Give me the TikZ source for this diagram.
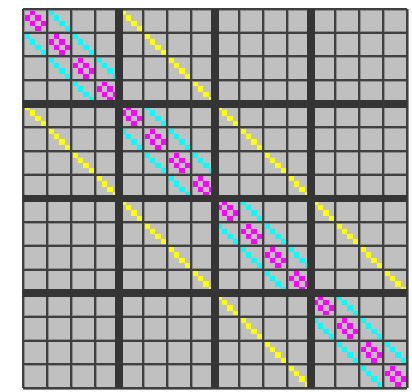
\documentclass[tikz,border=0pt]{standalone}
\definecolor{cellgray}{HTML}{C0C0C0}
\definecolor{linedark}{HTML}{404040}
\definecolor{linemid}{HTML}{8C8C8C}
\definecolor{thickline}{HTML}{353535}
\definecolor{mag}{HTML}{FF00FF}
\definecolor{cya}{HTML}{00FFFF}
\definecolor{yel}{HTML}{FFFF00}
\def\xo{23}\def\yo{9}\def\cw{24}\def\ch{23.6875}\def\sw{5.5}\def\sh{5.4219}
\newcommand{\matentry}[5]{%
  \fill[#1] ({\xo+#3*\cw+1+#5*\sw},{\yo+#2*\ch+1+#4*\sh}) rectangle ++(\sw,\sh);}
\tikzset{
  fringe/.style={draw=linemid, line width=3pt},
  thinline/.style={draw=linedark, line width=2pt},
  blockline/.style={draw=thickline, line width=7.7pt}
}
\begin{document}
\begin{tikzpicture}[x=1pt,y=-1pt]
\useasboundingbox (0,0) rectangle (412,391);
\fill[cellgray] (\xo,\yo) rectangle ({\xo+16*\cw},{\yo+16*\ch});
% magenta: diagonal cells, off-diagonal entries
\foreach \i in {0,...,15}{\foreach \r/\c in {0/1,1/0,1/2,2/1,2/3,3/2}{\matentry{mag}{\i}{\i}{\r}{\c}}}
% cyan: neighbouring cells within a block
\foreach \b in {0,...,3}{\foreach \k in {0,1,2}{\foreach \d in {0,...,3}{
  \pgfmathtruncatemacro\p{4*\b+\k}\pgfmathtruncatemacro\q{\p+1}
  \matentry{cya}{\p}{\q}{\d}{\d}\matentry{cya}{\q}{\p}{\d}{\d}}}}
% yellow: neighbouring blocks
\foreach \b in {0,1,2}{\foreach \k in {0,...,3}{\foreach \d in {0,...,3}{
  \pgfmathtruncatemacro\p{4*\b+\k}\pgfmathtruncatemacro\q{\p+4}
  \matentry{yel}{\p}{\q}{\d}{\d}\matentry{yel}{\q}{\p}{\d}{\d}}}}
% cell grid
\foreach \k in {0,...,16}{
  \draw[fringe] ({\xo+\k*\cw},\yo) -- ({\xo+\k*\cw},{\yo+16*\ch});
  \draw[fringe] (\xo,{\yo+\k*\ch}) -- ({\xo+16*\cw},{\yo+\k*\ch});
}
\foreach \k in {0,...,16}{
  \draw[thinline] ({\xo+\k*\cw},\yo) -- ({\xo+\k*\cw},{\yo+16*\ch});
  \draw[thinline] (\xo,{\yo+\k*\ch}) -- ({\xo+16*\cw},{\yo+\k*\ch});
}
% block separators
\foreach \k in {1,2,3}{
  \draw[blockline] ({\xo+4*\k*\cw},\yo) -- ({\xo+4*\k*\cw},{\yo+16*\ch});
  \draw[blockline] (\xo,{\yo+4*\k*\ch}) -- ({\xo+16*\cw},{\yo+4*\k*\ch});
}
\end{tikzpicture}
\end{document}
